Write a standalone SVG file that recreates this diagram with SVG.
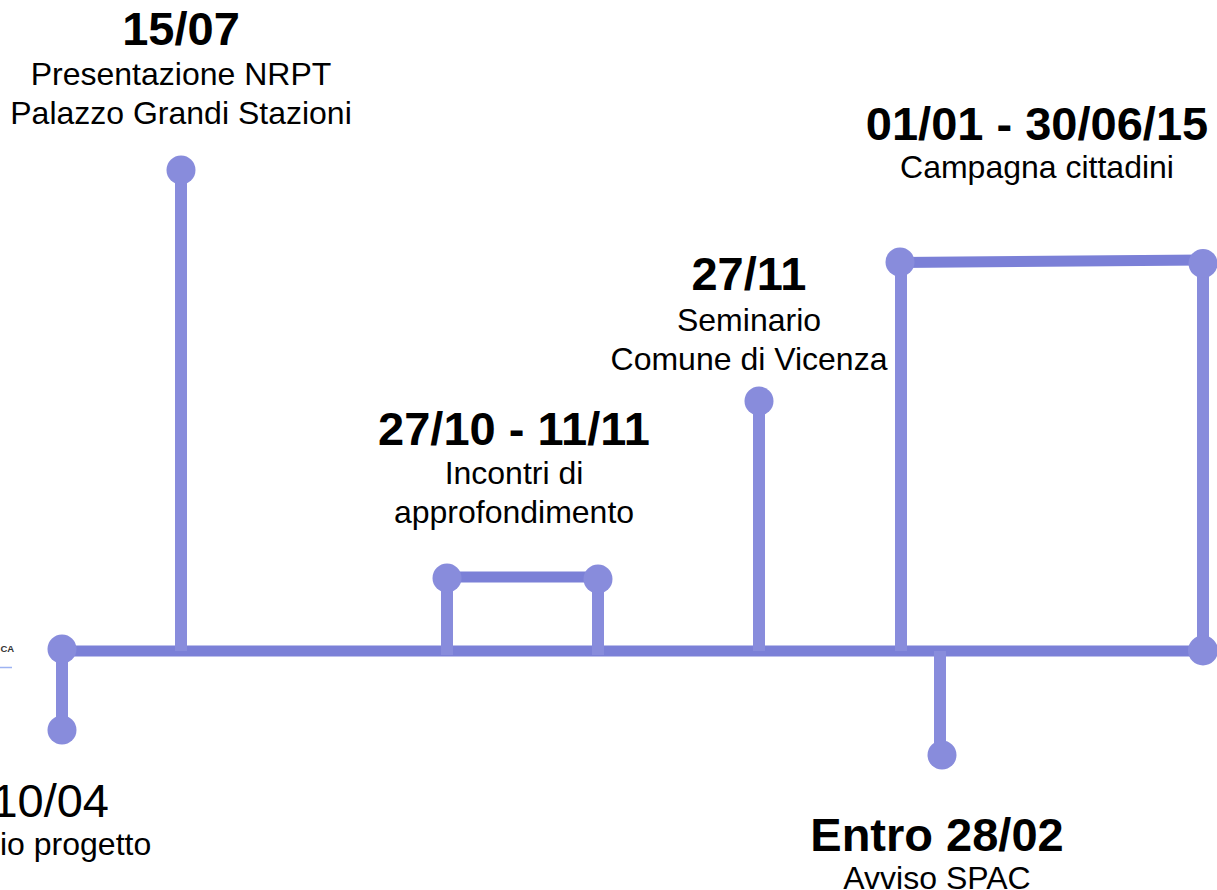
<svg xmlns="http://www.w3.org/2000/svg" width="1217" height="890" viewBox="0 0 1217 890">
<style>
.h{stroke:#7b80d7;stroke-width:11;fill:none}
.v{stroke:#888cdc;stroke-width:12;fill:none}
.dot{fill:#888cdc}
.t{font-family:"Liberation Sans",Arial,sans-serif;fill:#000;text-anchor:middle}
.b{font-size:47px;font-weight:bold}
.r{font-size:32px}
</style>
<rect width="1217" height="890" fill="#ffffff"/>
<g id="connectors">
<line class="h" x1="62" y1="651" x2="1203" y2="651"/>
<line class="v" x1="62" y1="649" x2="62" y2="730"/>
<line class="v" x1="181" y1="170" x2="181" y2="651"/>
<line class="v" x1="447" y1="578" x2="447" y2="655"/>
<line class="v" x1="598" y1="579" x2="598" y2="655"/>
<line class="h" x1="447" y1="577" x2="598" y2="577"/>
<line class="v" x1="759" y1="401" x2="759" y2="651"/>
<line class="v" x1="901" y1="262" x2="901" y2="651"/>
<line class="v" x1="1203" y1="263" x2="1203" y2="650"/>
<line class="h" x1="900" y1="262.5" x2="1203" y2="260"/>
<line class="v" x1="940" y1="651" x2="940" y2="755"/>
</g>
<g id="misc">
<text x="0.5" y="652" style="font-family:'Liberation Sans',Arial,sans-serif;font-size:9.5px;font-weight:bold;fill:#333;text-anchor:start">CA</text>
<line x1="0" y1="667.5" x2="12" y2="667.5" stroke="#9db3f2" stroke-width="1.5"/>
</g>
<g id="n-1004">
<circle class="dot" cx="62" cy="649" r="14.5"/>
<circle class="dot" cx="62" cy="730" r="14.5"/>
<text class="t r" x="109" y="817" style="font-size:47px;text-anchor:end">10/04</text>
<text class="t r" x="0" y="855" style="text-anchor:start">io progetto</text>
</g>
<g id="n-1507">
<circle class="dot" cx="181" cy="170" r="14.5"/>
<text class="t b" x="181" y="45">15/07</text>
<text class="t r" x="181" y="85">Presentazione NRPT</text>
<text class="t r" x="181" y="124">Palazzo Grandi Stazioni</text>
</g>
<g id="n-2710">
<circle class="dot" cx="447" cy="578" r="14.5"/>
<circle class="dot" cx="598" cy="579" r="14.5"/>
<text class="t b" x="514" y="445">27/10 - 11/11</text>
<text class="t r" x="514" y="484">Incontri di</text>
<text class="t r" x="514" y="523">approfondimento</text>
</g>
<g id="n-2711">
<circle class="dot" cx="759" cy="401" r="14.5"/>
<text class="t b" x="749" y="290">27/11</text>
<text class="t r" x="749" y="331">Seminario</text>
<text class="t r" x="749" y="370">Comune di Vicenza</text>
</g>
<g id="n-0101">
<circle class="dot" cx="900" cy="262" r="14.5"/>
<circle class="dot" cx="1203" cy="263.5" r="14.5"/>
<circle class="dot" cx="1203" cy="650.5" r="15"/>
<text class="t b" x="1037" y="140">01/01 - 30/06/15</text>
<text class="t r" x="1037" y="178">Campagna cittadini</text>
</g>
<g id="n-2802">
<circle class="dot" cx="942" cy="755" r="14.5"/>
<text class="t b" x="937" y="851">Entro 28/02</text>
<text class="t r" x="937" y="889">Avviso SPAC</text>
</g>
</svg>
